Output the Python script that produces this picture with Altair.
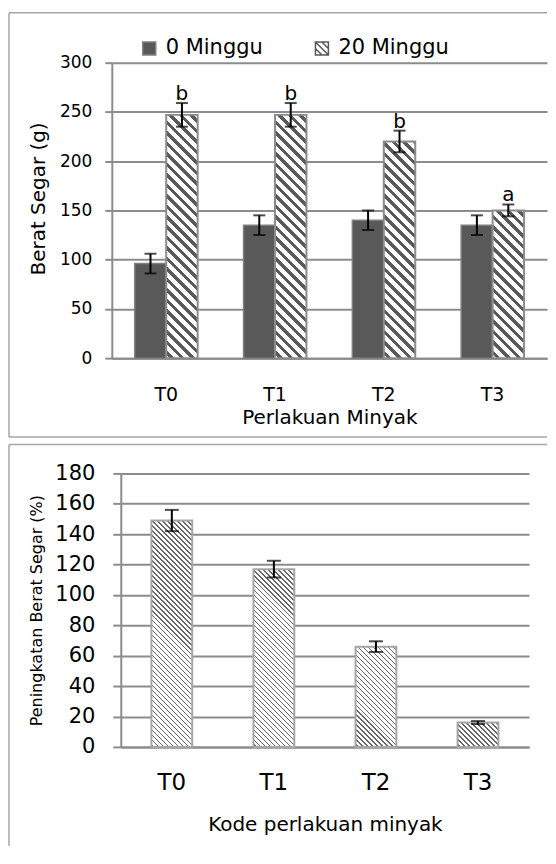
import altair as alt
import pandas as pd

# ---------------- data ----------------
perlakuan = ["T0", "T1", "T2", "T3"]
minggu = ["0 Minggu", "20 Minggu"]
berat_0 = [96, 135, 140, 135]
sd_0 = [10, 10, 10, 10]
berat_20 = [247, 247, 220, 150]
sd_20 = [12, 12, 11, 6]
huruf_20 = ["b", "b", "b", "a"]

peningkatan = [149, 117, 66, 16]
sd_peningkatan = [7, 5.5, 3.5, 1]

# ---------------- style ----------------
FONT = "DejaVu Sans"
GRID = "#8c8c8c"
FRAME = "#a6a6a6"
DARK = "#595959"

TOP_W, TOP_H, TOP_MAX = 436, 296, 300
BOT_W, BOT_H, BOT_MAX = 409, 274, 180
BOT_SHIFT = 9          # bottom plot starts 9px further right than the top plot
TOP_PI = 0.422
BOT_PI = 0.6

rows = []
for i, t in enumerate(perlakuan):
    rows.append(dict(Perlakuan=t, Waktu=minggu[0], nilai=berat_0[i],
                     lo=berat_0[i] - sd_0[i], hi=berat_0[i] + sd_0[i], huruf=""))
    rows.append(dict(Perlakuan=t, Waktu=minggu[1], nilai=berat_20[i],
                     lo=berat_20[i] - sd_20[i], hi=berat_20[i] + sd_20[i], huruf=huruf_20[i]))
top_df = pd.DataFrame(rows)

bot_df = pd.DataFrame({
    "Perlakuan": perlakuan,
    "nilai": peningkatan,
    "lo": [v - e for v, e in zip(peningkatan, sd_peningkatan)],
    "hi": [v + e for v, e in zip(peningkatan, sd_peningkatan)],
})
legend_df = pd.DataFrame({"Waktu": minggu})


def hatch(W, H, period, dark, color):
    """Diagonal '\\' stripes as a hard-stop linear gradient for a W x H bar."""
    L = W + H
    s = L / (W * W + H * H)
    stops = [{"offset": 0, "color": "#ffffff"}]
    pos = period * 0.35
    while pos < L:
        a = pos / L
        b = min(pos + dark, L) / L
        stops += [{"offset": round(a, 5), "color": "#ffffff"},
                  {"offset": round(a, 5), "color": color},
                  {"offset": round(b, 5), "color": color},
                  {"offset": round(b, 5), "color": "#ffffff"}]
        pos += period
    stops.append({"offset": 1, "color": "#ffffff"})
    return {"gradient": "linear", "x1": 0, "y1": 1,
            "x2": round(s * W, 6), "y2": round(1 - s * H, 6), "stops": stops}


def rule(x, x2, y, y2):
    return alt.Chart(pd.DataFrame({"k": [0]})).mark_rule(
        color=FRAME, strokeWidth=1.5
    ).encode(x=alt.value(x), x2=alt.value(x2), y=alt.value(y), y2=alt.value(y2))


# ---------------- top chart ----------------
ax_x_top = alt.Axis(ticks=False, grid=False, domainColor=GRID, domainWidth=2,
                    labelAngle=0, labelFontSize=19, labelBaseline="alphabetic",
                    labelPadding=42, labelColor="black",
                    title="Perlakuan Minyak", titleFontSize=20, titleBaseline="alphabetic",
                    titleX=TOP_W / 2, titleY=65)
ax_y_top = alt.Axis(values=list(range(0, 301, 50)), grid=True, gridColor=GRID, gridWidth=2,
                    domainColor=GRID, domainWidth=2, tickColor=GRID, tickWidth=2, tickSize=7,
                    labelFontSize=17, labelPadding=13, labelColor="black",
                    title="Berat Segar (g)", titleFontSize=20, titleBaseline="alphabetic",
                    titleAngle=-90, titleAlign="center", titleX=-67, titleY=136)
sc_x_top = alt.Scale(domain=perlakuan, paddingInner=TOP_PI, paddingOuter=TOP_PI / 2)
sc_y_top = alt.Scale(domain=[0, TOP_MAX], nice=False)
sc_xo = alt.Scale(domain=minggu, paddingInner=0, paddingOuter=0)


def xt():
    return alt.X("Perlakuan:N", sort=perlakuan, scale=sc_x_top, axis=ax_x_top)


def yt(field):
    return alt.Y(field, scale=sc_y_top, axis=ax_y_top)


xo = alt.XOffset("Waktu:N", scale=sc_xo)

base_top = alt.Chart(top_df)

dark_bars = base_top.transform_filter(alt.datum.Waktu == minggu[0]).mark_bar(
    fill=DARK, stroke="#7f7f7f", strokeWidth=1.5
).encode(x=xt(), xOffset=xo, y=yt("nilai:Q"))

W_top = TOP_W / 4 * (1 - TOP_PI) / 2
hatched_layers = []
for i, t in enumerate(perlakuan):
    H = berat_20[i] / TOP_MAX * TOP_H
    hatched_layers.append(
        base_top.transform_filter(
            (alt.datum.Waktu == minggu[1]) & (alt.datum.Perlakuan == t)
        ).mark_bar(fill=hatch(W_top, H, 10.5, 4.5, DARK), stroke="#8c8c8c", strokeWidth=2).encode(
            x=xt(), xOffset=xo, y=yt("nilai:Q"))
    )

err_top = base_top.mark_rule(color="black", strokeWidth=2).encode(
    x=xt(), xOffset=xo, y=yt("lo:Q"), y2="hi:Q")
caps_top = base_top.transform_fold(["lo", "hi"], as_=["kind", "nilai"]).mark_tick(
    color="black", thickness=2, size=12
).encode(x=xt(), xOffset=xo, y=yt("nilai:Q"))
letters = base_top.transform_filter(alt.datum.Waktu == minggu[1]).mark_text(
    fontSize=20, baseline="alphabetic", dy=-3, color="black"
).encode(x=xt(), xOffset=xo, y=yt("hi:Q"), text="huruf:N")

hatch_path = "M-1,-1H1V1H-1Z M-1,0L0,1 M-1,-1L1,1 M0,-1L1,0"
leg = alt.Legend(orient="none", legendX=27, legendY=-25, direction="horizontal", title=None,
                 labelFontSize=21, labelColor="black", symbolSize=169, symbolStrokeWidth=1.5,
                 symbolOpacity=1, columnPadding=48, labelOffset=6)
legend_layer = alt.Chart(legend_df).mark_point(
    opacity=0, filled=True, strokeWidth=1.5
).encode(
    x=alt.value(0), y=alt.value(0),
    fill=alt.Fill("Waktu:N", scale=alt.Scale(domain=minggu, range=[DARK, "#ffffff"]), legend=leg),
    shape=alt.Shape("Waktu:N", scale=alt.Scale(domain=minggu, range=["square", hatch_path]), legend=leg),
    stroke=alt.Stroke("Waktu:N", scale=alt.Scale(domain=minggu, range=["#7f7f7f", "#595959"]), legend=leg),
)

top_frame = [rule(-103, 436, -50, -50), rule(-103, -103, -50, 375), rule(-103, 436, 375, 375)]

top_chart = alt.layer(
    dark_bars, *hatched_layers, err_top, caps_top, letters, legend_layer, *top_frame
).properties(width=TOP_W, height=TOP_H)

# ---------------- bottom chart ----------------
ax_x_bot = alt.Axis(ticks=False, grid=False, domainColor=GRID, domainWidth=2,
                    labelAngle=0, labelFontSize=23, labelBaseline="alphabetic",
                    labelPadding=43, labelColor="black",
                    title="Kode perlakuan minyak", titleFontSize=20, titleBaseline="alphabetic",
                    titleX=BOT_SHIFT + BOT_W / 2, titleY=84)
ax_y_bot = alt.Axis(values=list(range(0, 181, 20)), grid=True, gridColor=GRID, gridWidth=2,
                    domainColor=GRID, domainWidth=2, tickColor=GRID, tickWidth=2, tickSize=8,
                    labelFontSize=21, labelPadding=18, labelColor="black", offset=-BOT_SHIFT,
                    title="Peningkatan Berat Segar (%)", titleFontSize=16,
                    titleBaseline="alphabetic", titleAngle=-90, titleAlign="center",
                    titleX=-79, titleY=BOT_H / 2)
sc_x_bot = alt.Scale(domain=perlakuan, paddingInner=BOT_PI, paddingOuter=BOT_PI / 2,
                     range=[BOT_SHIFT, BOT_SHIFT + BOT_W])
sc_y_bot = alt.Scale(domain=[0, BOT_MAX], nice=False)


def xb():
    return alt.X("Perlakuan:N", sort=perlakuan, scale=sc_x_bot, axis=ax_x_bot)


def yb(field):
    return alt.Y(field, scale=sc_y_bot, axis=ax_y_bot)


base_bot = alt.Chart(bot_df)
W_bot = BOT_W / 4 * (1 - BOT_PI)
bot_layers = []
for i, t in enumerate(perlakuan):
    H = peningkatan[i] / BOT_MAX * BOT_H
    bot_layers.append(
        base_bot.transform_filter(alt.datum.Perlakuan == t).mark_bar(
            fill=hatch(W_bot, H, 5.0, 1.7, "#666666"), stroke="#a6a6a6", strokeWidth=2
        ).encode(x=xb(), y=yb("nilai:Q"))
    )
err_bot = base_bot.mark_rule(color="black", strokeWidth=2).encode(
    x=xb(), y=yb("lo:Q"), y2="hi:Q")
caps_bot = base_bot.transform_fold(["lo", "hi"], as_=["kind", "nilai"]).mark_tick(
    color="black", thickness=2, size=14
).encode(x=xb(), y=yb("nilai:Q"))

bot_frame = [rule(-103, 436, -29, -29), rule(-103, -103, -29, 373)]

bottom_chart = alt.layer(*bot_layers, err_bot, caps_bot, *bot_frame).properties(
    width=BOT_W + BOT_SHIFT, height=BOT_H)

chart = alt.vconcat(top_chart, bottom_chart, spacing=5.5, bounds="full").properties(
    padding={"left": 0, "top": 3, "right": 0, "bottom": 0}
).configure_view(stroke=None).configure_axis(
    labelFont=FONT, titleFont=FONT, titleFontWeight="normal", titleColor="black"
).configure_legend(labelFont=FONT).configure_text(font=FONT)

chart.save("out.html", embed_options={"renderer": "svg", "actions": False})
